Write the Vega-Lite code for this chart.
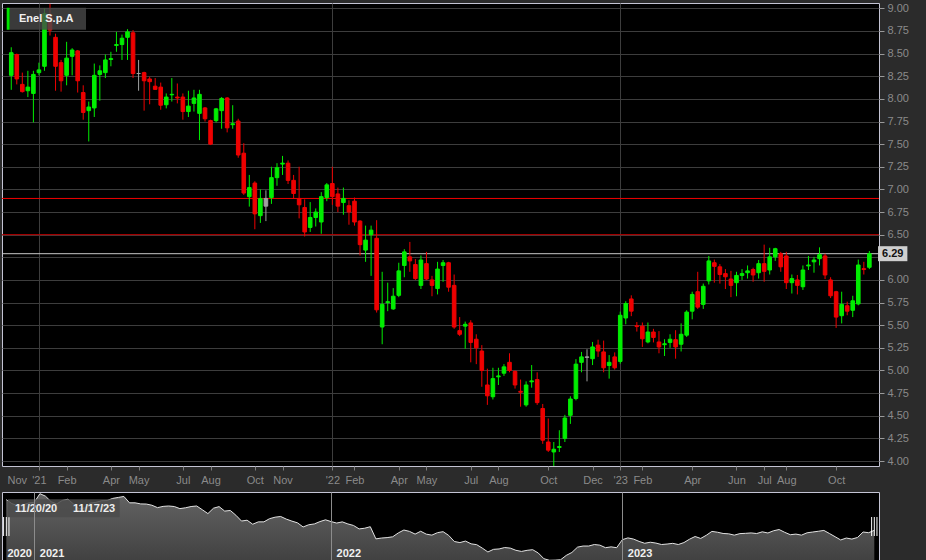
{
"$schema": "https://vega.github.io/schema/vega-lite/v6.json",
"background": "#2b2b2b",
"padding": {"left": 1, "top": 1, "right": 0, "bottom": 0},
"bounds": "flush",
"spacing": 26,
"config": {"font": "Liberation Sans", "view": {"fill": "#000000", "stroke": "#c4c4d4", "strokeWidth": 1}},
"resolve": {"legend": {"stroke": "independent", "shape": "independent"}, "scale": {"x": "independent", "y": "independent"}},
"datasets": {
"levels": [{"level": 6.9, "kind": "a"}, {"level": 6.5, "kind": "b"}],
"last": [{"name": "Enel S.p.A", "d": "2023-11-13", "close": 6.29}],
"range": [{"d": "2020-11-23", "label": "11/20/20"}, {"d": "2023-11-13", "label": "11/17/23"}],
"candles": [
{"d":"2020-11-23","o":8.26,"h":8.57,"l":8.10,"c":8.51},
{"d":"2020-11-30","o":8.49,"h":8.50,"l":8.16,"c":8.22},
{"d":"2020-12-07","o":8.16,"h":8.29,"l":8.07,"c":8.08},
{"d":"2020-12-14","o":8.09,"h":8.31,"l":8.02,"c":8.13},
{"d":"2020-12-21","o":8.06,"h":8.31,"l":7.74,"c":8.27},
{"d":"2020-12-28","o":8.29,"h":8.40,"l":8.26,"c":8.32},
{"d":"2021-01-04","o":8.36,"h":9.00,"l":8.31,"c":8.94},
{"d":"2021-01-11","o":8.93,"h":9.05,"l":8.70,"c":8.76},
{"d":"2021-01-18","o":8.68,"h":8.72,"l":8.09,"c":8.36},
{"d":"2021-01-25","o":8.40,"h":8.43,"l":8.08,"c":8.20},
{"d":"2021-02-01","o":8.26,"h":8.63,"l":8.15,"c":8.45},
{"d":"2021-02-08","o":8.47,"h":8.56,"l":8.26,"c":8.54},
{"d":"2021-02-15","o":8.53,"h":8.54,"l":8.07,"c":8.20},
{"d":"2021-02-22","o":8.07,"h":8.15,"l":7.77,"c":7.85},
{"d":"2021-03-01","o":7.87,"h":7.97,"l":7.53,"c":7.91},
{"d":"2021-03-08","o":7.90,"h":8.39,"l":7.80,"c":8.26},
{"d":"2021-03-15","o":8.27,"h":8.37,"l":7.98,"c":8.31},
{"d":"2021-03-22","o":8.29,"h":8.49,"l":8.23,"c":8.43},
{"d":"2021-03-29","o":8.435,"h":8.52,"l":8.36,"c":8.445},
{"d":"2021-04-05","o":8.59,"h":8.74,"l":8.52,"c":8.60},
{"d":"2021-04-12","o":8.60,"h":8.71,"l":8.43,"c":8.67},
{"d":"2021-04-19","o":8.68,"h":8.77,"l":8.43,"c":8.74},
{"d":"2021-04-26","o":8.73,"h":8.76,"l":8.23,"c":8.28},
{"d":"2021-05-03","o":8.28,"h":8.43,"l":8.09,"c":8.28},
{"d":"2021-05-10","o":8.29,"h":8.30,"l":7.87,"c":8.20},
{"d":"2021-05-17","o":8.22,"h":8.245,"l":7.94,"c":8.19},
{"d":"2021-05-24","o":8.14,"h":8.23,"l":8.10,"c":8.105},
{"d":"2021-05-31","o":8.13,"h":8.18,"l":7.88,"c":7.93},
{"d":"2021-06-07","o":7.935,"h":8.06,"l":7.895,"c":8.02},
{"d":"2021-06-14","o":8.045,"h":8.23,"l":7.97,"c":8.05},
{"d":"2021-06-21","o":8.02,"h":8.17,"l":7.95,"c":8.01},
{"d":"2021-06-28","o":8.02,"h":8.06,"l":7.77,"c":7.86},
{"d":"2021-07-05","o":7.86,"h":8.09,"l":7.80,"c":7.92},
{"d":"2021-07-12","o":7.95,"h":8.10,"l":7.86,"c":8.01},
{"d":"2021-07-19","o":7.84,"h":8.10,"l":7.545,"c":8.05},
{"d":"2021-07-26","o":7.90,"h":7.91,"l":7.75,"c":7.78},
{"d":"2021-08-02","o":7.76,"h":7.77,"l":7.49,"c":7.50},
{"d":"2021-08-09","o":7.76,"h":7.90,"l":7.74,"c":7.89},
{"d":"2021-08-16","o":7.87,"h":8.02,"l":7.67,"c":8.005},
{"d":"2021-08-23","o":8.01,"h":8.02,"l":7.63,"c":7.68},
{"d":"2021-08-30","o":7.715,"h":7.93,"l":7.67,"c":7.725},
{"d":"2021-09-06","o":7.755,"h":7.78,"l":7.35,"c":7.38},
{"d":"2021-09-13","o":7.40,"h":7.51,"l":6.94,"c":6.96},
{"d":"2021-09-20","o":6.92,"h":7.16,"l":6.81,"c":7.02},
{"d":"2021-09-27","o":7.07,"h":7.09,"l":6.56,"c":6.73},
{"d":"2021-10-04","o":6.71,"h":7.00,"l":6.63,"c":6.90},
{"d":"2021-10-11","o":6.815,"h":6.99,"l":6.65,"c":6.90},
{"d":"2021-10-18","o":6.91,"h":7.25,"l":6.84,"c":7.13},
{"d":"2021-10-25","o":7.13,"h":7.29,"l":7.04,"c":7.24},
{"d":"2021-11-01","o":7.28,"h":7.37,"l":7.16,"c":7.29},
{"d":"2021-11-08","o":7.29,"h":7.32,"l":7.06,"c":7.10},
{"d":"2021-11-15","o":7.10,"h":7.16,"l":6.90,"c":6.955},
{"d":"2021-11-22","o":6.90,"h":7.25,"l":6.68,"c":6.83},
{"d":"2021-11-29","o":6.80,"h":6.89,"l":6.48,"c":6.53},
{"d":"2021-12-06","o":6.58,"h":6.86,"l":6.53,"c":6.69},
{"d":"2021-12-13","o":6.69,"h":6.79,"l":6.59,"c":6.75},
{"d":"2021-12-20","o":6.64,"h":6.97,"l":6.51,"c":6.92},
{"d":"2021-12-27","o":6.91,"h":7.07,"l":6.87,"c":7.05},
{"d":"2022-01-03","o":7.065,"h":7.25,"l":6.83,"c":6.92},
{"d":"2022-01-10","o":6.95,"h":7.02,"l":6.75,"c":6.815},
{"d":"2022-01-17","o":6.855,"h":7.02,"l":6.72,"c":6.90},
{"d":"2022-01-24","o":6.82,"h":6.88,"l":6.61,"c":6.75},
{"d":"2022-01-31","o":6.87,"h":6.91,"l":6.60,"c":6.64},
{"d":"2022-02-07","o":6.65,"h":6.66,"l":6.27,"c":6.39},
{"d":"2022-02-14","o":6.33,"h":6.60,"l":6.20,"c":6.44},
{"d":"2022-02-21","o":6.50,"h":6.60,"l":6.045,"c":6.55},
{"d":"2022-02-28","o":6.46,"h":6.66,"l":5.64,"c":5.67},
{"d":"2022-03-07","o":5.48,"h":6.09,"l":5.29,"c":5.73},
{"d":"2022-03-14","o":5.75,"h":5.97,"l":5.655,"c":5.76},
{"d":"2022-03-21","o":5.68,"h":5.91,"l":5.67,"c":5.82},
{"d":"2022-03-28","o":5.83,"h":6.19,"l":5.81,"c":6.10},
{"d":"2022-04-04","o":6.16,"h":6.34,"l":6.03,"c":6.31},
{"d":"2022-04-11","o":6.255,"h":6.42,"l":6.09,"c":6.21},
{"d":"2022-04-18","o":6.17,"h":6.23,"l":6.00,"c":6.015},
{"d":"2022-04-25","o":5.94,"h":6.27,"l":5.90,"c":6.22},
{"d":"2022-05-02","o":6.18,"h":6.31,"l":6.00,"c":6.01},
{"d":"2022-05-09","o":6.00,"h":6.045,"l":5.82,"c":5.94},
{"d":"2022-05-16","o":5.905,"h":6.20,"l":5.84,"c":6.12},
{"d":"2022-05-23","o":6.16,"h":6.22,"l":5.98,"c":6.19},
{"d":"2022-05-30","o":6.19,"h":6.20,"l":5.87,"c":5.92},
{"d":"2022-06-06","o":5.94,"h":6.06,"l":5.46,"c":5.48},
{"d":"2022-06-13","o":5.44,"h":5.59,"l":5.38,"c":5.40},
{"d":"2022-06-20","o":5.49,"h":5.54,"l":5.24,"c":5.51},
{"d":"2022-06-27","o":5.525,"h":5.555,"l":5.09,"c":5.31},
{"d":"2022-07-04","o":5.345,"h":5.40,"l":5.07,"c":5.25},
{"d":"2022-07-11","o":5.215,"h":5.28,"l":4.82,"c":5.00},
{"d":"2022-07-18","o":4.84,"h":5.02,"l":4.62,"c":4.72},
{"d":"2022-07-25","o":4.71,"h":5.03,"l":4.68,"c":4.91},
{"d":"2022-08-01","o":4.93,"h":5.03,"l":4.84,"c":4.94},
{"d":"2022-08-08","o":4.97,"h":5.07,"l":4.94,"c":5.04},
{"d":"2022-08-15","o":5.09,"h":5.19,"l":4.98,"c":5.00},
{"d":"2022-08-22","o":4.99,"h":5.00,"l":4.80,"c":4.84},
{"d":"2022-08-29","o":4.77,"h":4.90,"l":4.60,"c":4.76},
{"d":"2022-09-05","o":4.62,"h":4.88,"l":4.60,"c":4.84},
{"d":"2022-09-12","o":4.875,"h":5.06,"l":4.81,"c":4.885},
{"d":"2022-09-19","o":4.90,"h":4.98,"l":4.62,"c":4.645},
{"d":"2022-09-26","o":4.58,"h":4.63,"l":4.19,"c":4.23},
{"d":"2022-10-03","o":4.21,"h":4.47,"l":4.10,"c":4.12},
{"d":"2022-10-10","o":4.10,"h":4.21,"l":3.94,"c":4.13},
{"d":"2022-10-17","o":4.15,"h":4.34,"l":4.10,"c":4.16},
{"d":"2022-10-24","o":4.25,"h":4.51,"l":4.21,"c":4.475},
{"d":"2022-10-31","o":4.505,"h":4.715,"l":4.41,"c":4.685},
{"d":"2022-11-07","o":4.69,"h":5.125,"l":4.67,"c":5.07},
{"d":"2022-11-14","o":5.09,"h":5.205,"l":4.98,"c":5.15},
{"d":"2022-11-21","o":5.145,"h":5.235,"l":4.88,"c":5.15},
{"d":"2022-11-28","o":5.13,"h":5.315,"l":5.06,"c":5.26},
{"d":"2022-12-05","o":5.28,"h":5.34,"l":5.15,"c":5.215},
{"d":"2022-12-12","o":5.205,"h":5.33,"l":4.98,"c":5.03},
{"d":"2022-12-19","o":5.055,"h":5.17,"l":4.91,"c":5.09},
{"d":"2022-12-26","o":5.15,"h":5.20,"l":5.01,"c":5.03},
{"d":"2023-01-02","o":5.10,"h":5.65,"l":5.075,"c":5.61},
{"d":"2023-01-09","o":5.58,"h":5.765,"l":5.51,"c":5.74},
{"d":"2023-01-16","o":5.79,"h":5.83,"l":5.60,"c":5.655},
{"d":"2023-01-23","o":5.495,"h":5.535,"l":5.43,"c":5.485},
{"d":"2023-01-30","o":5.49,"h":5.53,"l":5.26,"c":5.35},
{"d":"2023-02-06","o":5.315,"h":5.53,"l":5.30,"c":5.425},
{"d":"2023-02-13","o":5.425,"h":5.46,"l":5.31,"c":5.365},
{"d":"2023-02-20","o":5.315,"h":5.435,"l":5.19,"c":5.26},
{"d":"2023-02-27","o":5.285,"h":5.345,"l":5.16,"c":5.295},
{"d":"2023-03-06","o":5.31,"h":5.40,"l":5.25,"c":5.345},
{"d":"2023-03-13","o":5.34,"h":5.445,"l":5.13,"c":5.26},
{"d":"2023-03-20","o":5.29,"h":5.52,"l":5.21,"c":5.40},
{"d":"2023-03-27","o":5.39,"h":5.665,"l":5.37,"c":5.645},
{"d":"2023-04-03","o":5.655,"h":5.87,"l":5.565,"c":5.84},
{"d":"2023-04-10","o":5.87,"h":6.09,"l":5.68,"c":5.70},
{"d":"2023-04-17","o":5.73,"h":5.96,"l":5.68,"c":5.93},
{"d":"2023-04-24","o":5.99,"h":6.265,"l":5.95,"c":6.21},
{"d":"2023-05-01","o":6.19,"h":6.225,"l":5.97,"c":6.15},
{"d":"2023-05-08","o":6.145,"h":6.175,"l":5.96,"c":6.06},
{"d":"2023-05-15","o":6.07,"h":6.12,"l":5.90,"c":6.035},
{"d":"2023-05-22","o":6.01,"h":6.10,"l":5.81,"c":5.94},
{"d":"2023-05-29","o":5.97,"h":6.09,"l":5.82,"c":6.05},
{"d":"2023-06-05","o":6.05,"h":6.12,"l":6.00,"c":6.07},
{"d":"2023-06-12","o":6.08,"h":6.16,"l":6.015,"c":6.10},
{"d":"2023-06-19","o":6.115,"h":6.135,"l":5.98,"c":6.055},
{"d":"2023-06-26","o":6.08,"h":6.22,"l":6.015,"c":6.18},
{"d":"2023-07-03","o":6.18,"h":6.39,"l":5.98,"c":6.095},
{"d":"2023-07-10","o":6.11,"h":6.355,"l":6.06,"c":6.255},
{"d":"2023-07-17","o":6.255,"h":6.355,"l":6.21,"c":6.345},
{"d":"2023-07-24","o":6.29,"h":6.31,"l":6.09,"c":6.145},
{"d":"2023-07-31","o":6.265,"h":6.31,"l":5.90,"c":5.97},
{"d":"2023-08-07","o":5.97,"h":6.06,"l":5.85,"c":6.015},
{"d":"2023-08-14","o":6.00,"h":6.055,"l":5.84,"c":5.94},
{"d":"2023-08-21","o":5.925,"h":6.16,"l":5.89,"c":6.11},
{"d":"2023-08-28","o":6.155,"h":6.265,"l":6.11,"c":6.165},
{"d":"2023-09-04","o":6.20,"h":6.255,"l":6.08,"c":6.22},
{"d":"2023-09-11","o":6.235,"h":6.36,"l":6.16,"c":6.28},
{"d":"2023-09-18","o":6.265,"h":6.29,"l":6.01,"c":6.055},
{"d":"2023-09-25","o":6.00,"h":6.03,"l":5.80,"c":5.825},
{"d":"2023-10-02","o":5.87,"h":5.88,"l":5.47,"c":5.59},
{"d":"2023-10-09","o":5.605,"h":5.87,"l":5.52,"c":5.73},
{"d":"2023-10-16","o":5.715,"h":5.76,"l":5.61,"c":5.655},
{"d":"2023-10-23","o":5.665,"h":5.825,"l":5.59,"c":5.77},
{"d":"2023-10-30","o":5.735,"h":6.225,"l":5.72,"c":6.165},
{"d":"2023-11-06","o":6.125,"h":6.20,"l":6.06,"c":6.115},
{"d":"2023-11-13","o":6.14,"h":6.32,"l":6.12,"c":6.29}
]
},
"vconcat": [
{
"width": 877,
"height": 463,
"layer": [
{
"data": {"name": "levels"},
"mark": {"type": "rule", "strokeWidth": 1},
"encoding": {
"y": {"field": "level", "type": "quantitative",
"scale": {"domain": [3.945, 9.059], "nice": false, "zero": false},
"axis": {"orient": "right", "title": null, "domain": false,
"values": [4, 4.25, 4.5, 4.75, 5, 5.25, 5.5, 5.75, 6, 6.25, 6.5, 6.75, 7, 7.25, 7.5, 7.75, 8, 8.25, 8.5, 8.75, 9],
"tickCount": 100,
"labelExpr": "datum.value == 6.25 ? '' : format(datum.value, '.2f')",
"tickSize": 5, "tickColor": "#9a9a9a", "labelPadding": 3,
"labelColor": "#8a8a8a", "labelFontSize": 11, "labelFont": "Liberation Sans",
"grid": true, "gridColor": "#3d3d3d", "labelOverlap": false, "minExtent": 48, "maxExtent": 48}},
"color": {"field": "kind", "type": "nominal", "scale": {"domain": ["a", "b"], "range": ["#ee0000", "#c00000"]}, "legend": null}
}
},
{
"data": {"name": "last"},
"mark": {"type": "rule", "strokeWidth": 1},
"encoding": {
"y": {"field": "close", "type": "quantitative"},
"stroke": {"field": "name", "type": "nominal", "scale": {"range": ["#c8c8c8"]},
"legend": {"orient": "none", "legendX": 8, "legendY": 4.7, "title": null, "padding": 0,
"fillColor": "rgba(72,72,72,0.8)",
"symbolType": "M-1.3,-1L-1.03,-1L-1.03,1L-1.3,1Z M5.85,0L5.851,0L5.851,0.001Z",
"symbolSize": 484, "symbolStrokeWidth": 0, "labelOffset": -13,
"labelColor": "#f0f0f0", "labelFontSize": 11, "labelFontWeight": "bold", "labelFont": "Liberation Sans",
"encode": {"symbols": {"update": {"fill": {"value": "#00e400"}, "opacity": {"value": 1}}}}}}
}
},
{
"data": {"name": "candles"},
"transform": [{"window": [{"op": "lag", "field": "c", "as": "prev"}], "sort": [{"field": "d", "order": "ascending"}]}],
"layer": [
{
"mark": {"type": "rule", "strokeWidth": 1, "clip": true},
"encoding": {
"x": {"field": "d", "type": "temporal",
"scale": {"type": "utc", "nice": false, "domain": [{"year": 2020, "month": 11, "date": 17, "hours": 15, "utc": true}, {"year": 2023, "month": 11, "date": 18, "hours": 21, "utc": true}]},
"axis": {"orient": "bottom", "title": null, "domain": false,
"values": [
{"year": 2020, "month": 11, "date": 17, "hours": 15, "utc": true},
{"year": 2020, "month": 12, "date": 28, "utc": true},
{"year": 2021, "month": 2, "date": 1, "utc": true},
{"year": 2021, "month": 3, "date": 29, "utc": true},
{"year": 2021, "month": 5, "date": 3, "utc": true},
{"year": 2021, "month": 6, "date": 28, "utc": true},
{"year": 2021, "month": 8, "date": 2, "utc": true},
{"year": 2021, "month": 9, "date": 27, "utc": true},
{"year": 2021, "month": 11, "date": 1, "utc": true},
{"year": 2022, "month": 1, "date": 3, "utc": true},
{"year": 2022, "month": 1, "date": 31, "utc": true},
{"year": 2022, "month": 3, "date": 28, "utc": true},
{"year": 2022, "month": 5, "date": 2, "utc": true},
{"year": 2022, "month": 6, "date": 27, "utc": true},
{"year": 2022, "month": 8, "date": 1, "utc": true},
{"year": 2022, "month": 10, "date": 3, "utc": true},
{"year": 2022, "month": 11, "date": 28, "utc": true},
{"year": 2023, "month": 1, "date": 2, "utc": true},
{"year": 2023, "month": 1, "date": 30, "utc": true},
{"year": 2023, "month": 4, "date": 3, "utc": true},
{"year": 2023, "month": 5, "date": 29, "utc": true},
{"year": 2023, "month": 7, "date": 3, "utc": true},
{"year": 2023, "month": 7, "date": 31, "utc": true},
{"year": 2023, "month": 10, "date": 2, "utc": true}],
"tickCount": 100,
"labelExpr": "utcmonth(datum.value + 518400000) == 0 ? \"'\" + utcFormat(datum.value + 518400000, '%y') : utcFormat(datum.value + 518400000, '%b')",
"tickSize": 4, "tickColor": "#7a7a7a", "labelPadding": 4,
"labelColor": "#8a8a8a", "labelFontSize": 11, "labelFont": "Liberation Sans",
"labelOverlap": false, "labelFlush": false,
"labelAlign": {"condition": {"test": "utcyear(datum.value) == 2020 && utcmonth(datum.value) == 10", "value": "left"}, "value": "center"},
"tickOpacity": {"condition": {"test": "utcyear(datum.value) == 2020 && utcmonth(datum.value) == 10", "value": 0}, "value": 1},
"grid": true, "gridColor": "#3d3d3d",
"gridOpacity": {"condition": {"test": "utcmonth(datum.value + 518400000) == 0", "value": 1}, "value": 0}}},
"y": {"field": "l", "type": "quantitative"},
"y2": {"field": "h"},
"color": {"condition": [
{"test": "datum.prev == null ? datum.c > datum.o : datum.c > datum.prev", "value": "#00ee00"},
{"test": "datum.prev == null ? datum.c < datum.o : datum.c < datum.prev", "value": "#ee0000"}], "value": "#a0a0a0"}
}
},
{
"mark": {"type": "bar", "orient": "vertical", "size": 3.6, "strokeWidth": 1, "clip": true},
"encoding": {
"x": {"field": "d", "type": "temporal"},
"y": {"field": "o", "type": "quantitative"},
"y2": {"field": "c"},
"color": {"condition": [
{"test": "datum.prev == null ? datum.c > datum.o : datum.c > datum.prev", "value": "#00ee00"},
{"test": "datum.prev == null ? datum.c < datum.o : datum.c < datum.prev", "value": "#ee0000"}], "value": "#a0a0a0"},
"stroke": {"condition": [
{"test": "datum.prev == null ? datum.c > datum.o : datum.c > datum.prev", "value": "#00ee00"},
{"test": "datum.prev == null ? datum.c < datum.o : datum.c < datum.prev", "value": "#ee0000"}], "value": "#a0a0a0"}
}
}
]
},
{
"data": {"name": "last"},
"mark": {"type": "point", "shape": "M1.16,-1L5.07,-1L5.07,1L1.16,1Z", "size": 225, "filled": true, "fill": "#cfcfcf", "opacity": 1, "strokeWidth": 0, "clip": false},
"encoding": {
"x": {"field": "d", "type": "temporal"},
"y": {"field": "close", "type": "quantitative"}
}
},
{
"data": {"name": "last"},
"mark": {"type": "text", "dx": 23.4, "align": "center", "baseline": "middle", "fontSize": 11, "fontWeight": "bold", "color": "#111111", "clip": false},
"encoding": {
"x": {"field": "d", "type": "temporal"},
"y": {"field": "close", "type": "quantitative"},
"text": {"field": "close", "type": "quantitative", "format": ".2f"}
}
}
]
},
{
"width": 877,
"height": 69,
"layer": [
{
"data": {"name": "candles"},
"mark": {"type": "area", "clip": true, "line": {"color": "#e2e2e2", "strokeWidth": 1},
"color": {"gradient": "linear", "x1": 0, "y1": 0, "x2": 0, "y2": 1, "stops": [{"offset": 0, "color": "#8e8e8e"}, {"offset": 1, "color": "#333333"}]}},
"encoding": {
"x": {"field": "d", "type": "temporal",
"scale": {"type": "utc", "nice": false, "domain": [{"year": 2020, "month": 11, "date": 17, "hours": 15, "utc": true}, {"year": 2023, "month": 11, "date": 18, "hours": 21, "utc": true}]},
"axis": {"orient": "bottom", "title": null, "domain": false, "ticks": false, "tickSize": 0, "zindex": 1,
"values": [
{"year": 2020, "month": 11, "date": 17, "hours": 15, "utc": true},
{"year": 2020, "month": 12, "date": 28, "utc": true},
{"year": 2022, "month": 1, "date": 3, "utc": true},
{"year": 2023, "month": 1, "date": 2, "utc": true}],
"tickCount": 100,
"labelExpr": "utcFormat(datum.value + 518400000, '%Y')",
"labelAlign": "left", "labelBaseline": "alphabetic", "labelPadding": -5, "labelOffset": 5,
"labelFlush": false, "labelOverlap": false, "labelColor": "#f0f0f0", "labelFontSize": 11,
"labelFontWeight": "bold", "labelFont": "Liberation Sans",
"grid": true, "gridColor": "#8c8c8c",
"gridOpacity": {"condition": {"test": "utcmonth(datum.value + 518400000) == 0", "value": 1}, "value": 0},
"minExtent": 0, "maxExtent": 0}},
"y": {"field": "c", "type": "quantitative", "scale": {"domain": [4.067, 9.063], "nice": false, "zero": false}, "axis": null}
}
},
{
"data": {"name": "range"},
"mark": {"type": "point", "filled": false, "stroke": "#ffffff", "strokeWidth": 1, "size": 361, "opacity": 1},
"encoding": {
"x": {"field": "d", "type": "temporal"},
"shape": {"field": "label", "type": "nominal",
"scale": {"domain": ["11/20/20", "11/17/23"], "range": ["M-0.28,-1L-0.28,1M0,-1L0,1M0.28,-1L0.28,1", "M-0.28,-1L-0.28,1M0,-1L0,1M0.28,-1L0.28,1"]},
"legend": {"orient": "none", "legendX": 5.7, "legendY": 7.3, "direction": "horizontal", "title": null,
"fillColor": "rgba(75,75,75,0.85)", "padding": 3.5, "symbolSize": 0, "symbolOpacity": 0,
"labelOffset": -7.2, "columnPadding": 11, "labelColor": "#eeeeee", "labelFontSize": 11,
"labelFontWeight": "bold", "labelFont": "Liberation Sans"}}
}
}
]
}
]
}
